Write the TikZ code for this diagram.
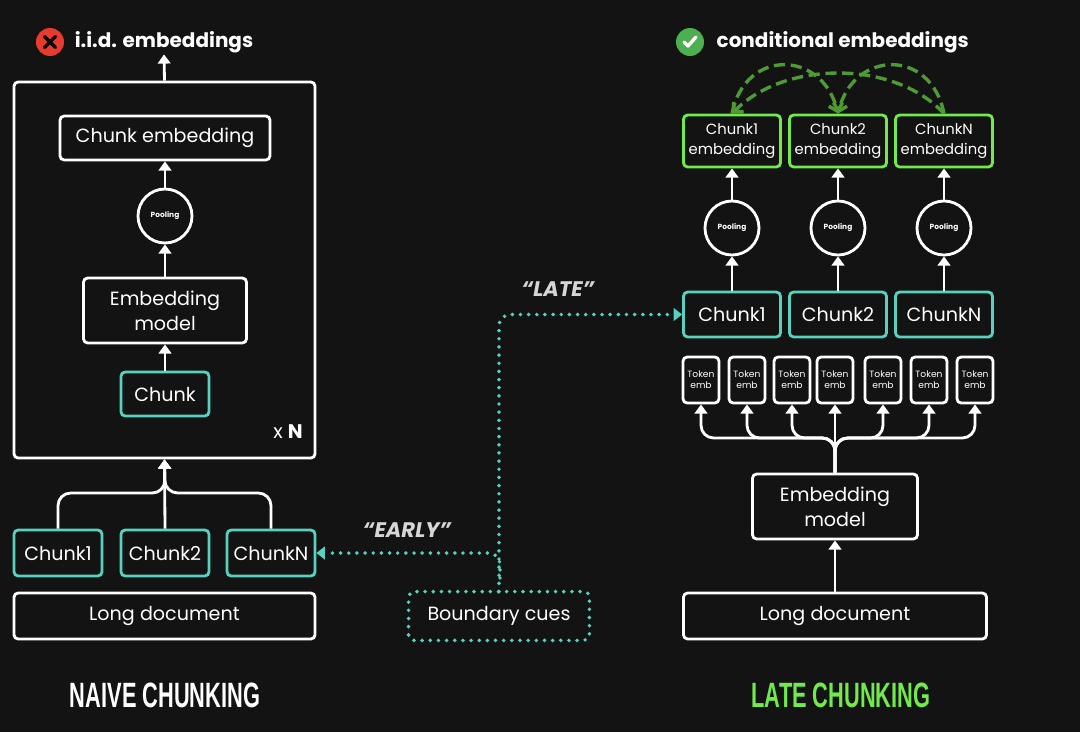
\documentclass[tikz,border=0pt]{standalone}
\usepackage{fontspec}
\setmainfont{Poppins}
\newfontfamily\titlefont{Liberation Sans}
\usetikzlibrary{arrows.meta}

\definecolor{bg}{HTML}{131313}
\definecolor{cueteal}{HTML}{58D2BE}
\definecolor{embgreen}{HTML}{72EA4C}
\definecolor{arcgreen}{HTML}{4E9A34}
\definecolor{crossred}{HTML}{E63B2E}
\definecolor{checkgreen}{HTML}{4CAF50}
\definecolor{cuegray}{HTML}{D6D6D6}

\tikzstyle{box} = [rectangle, rounded corners = 3pt, draw = white, line width = 2pt,
	text = white, align = center, inner sep = 0pt, font = \fontsize{13.6}{18}\selectfont]
\tikzstyle{chunkbox} = [box, draw = cueteal]
\tikzstyle{embbox} = [box, draw = embgreen, font = \fontsize{10.5}{14}\selectfont,
	minimum width = 2.425cm, minimum height = 1.3cm]
\tikzstyle{tokbox} = [box, font = \fontsize{6.5}{8}\selectfont,
	minimum width = 0.9cm, minimum height = 1.15cm]
\tikzstyle{pool} = [circle, draw = white, line width = 2pt, minimum size = 1.35cm,
	inner sep = 0pt, text = white, font = \bfseries\fontsize{5.3}{6}\selectfont]
\tikzstyle{line} = [draw = white, line width = 2pt, -{Triangle[width = 9pt, length = 6.5pt]}]
\tikzstyle{cue} = [draw = cueteal, line width = 2.8pt, dash pattern = on 0pt off 5.8pt,
	line cap = round, rounded corners = 8pt, -{Triangle[width = 9pt, length = 6pt]}]
\tikzstyle{attend} = [draw = arcgreen, line width = 2.4pt, dash pattern = on 8pt off 4pt,
	-{Straight Barb[width = 10pt, length = 5pt]}]
\tikzstyle{head} = [text = white, inner sep = 1pt, font = \bfseries\fontsize{14.2}{18}\selectfont]
\tikzstyle{title} = [inner sep = 0pt, font = \titlefont\bfseries\fontsize{25}{28}\selectfont]
\tikzstyle{cuetext} = [text = cuegray, font = \bfseries\itshape\fontsize{15}{18}\selectfont]

\begin{document}
\begin{tikzpicture}[x = 0.025cm, y = -0.025cm]

\fill [bg] (0,0) rectangle (1080,732);
\useasboundingbox (0,0) rectangle (1080,732);

% naive chunking
\node (nhead) [head] at (164,42) {i.i.d. embeddings};
\node (xicon) [circle, fill = crossred, minimum size = 0.7cm, inner sep = 0pt] at (50,42) {};
\draw [line width = 2.4pt, line cap = round] ([shift = {(-5.5,-5.5)}]xicon.center) -- ([shift = {(5.5,5.5)}]xicon.center)
	([shift = {(-5.5,5.5)}]xicon.center) -- ([shift = {(5.5,-5.5)}]xicon.center);

\node (outer) [box, minimum width = 7.525cm, minimum height = 9.4cm] at (164.5,270) {};
\node (nemb) [box, minimum width = 5.25cm, minimum height = 1.1cm] at (165,138) {Chunk embedding};
\node (npool) [pool] at (165,216) {Pooling};
\node (nmodel) [box, minimum width = 4.075cm, minimum height = 1.625cm] at (165,310.5) {Embedding\\model};
\node (nchunk) [chunkbox, minimum width = 2.2cm, minimum height = 1.1cm] at (165,394) {Chunk};
\node (nrep) [text = white, font = \fontsize{14}{16}\selectfont] at (288,432) {x \textbf{N}};

\node (nc1) [chunkbox, minimum width = 2.2cm, minimum height = 1.15cm] at (58,553) {Chunk1};
\node (nc2) [chunkbox, minimum width = 2.2cm, minimum height = 1.15cm] at (165,553) {Chunk2};
\node (ncN) [chunkbox, minimum width = 2.2cm, minimum height = 1.15cm] at (271,553) {ChunkN};
\node (ndoc) [box, minimum width = 7.525cm, minimum height = 1.15cm] at (164.5,616) {Long document};

\node (ntitle) [title, text = white] at (165,695) {\scalebox{0.62}[1]{NAIVE CHUNKING}};

\coordinate (nmerge) at (165,493);
\draw [line] (outer.north) -- (nhead.south);
\draw [line] (npool.north) -- (nemb.south);
\draw [line] (nmodel.north) -- (npool.south);
\draw [line] (nchunk.north) -- (nmodel.south);
\draw [line, rounded corners = 9pt] (nc1.north) |- (nmerge) -- (outer.south);
\draw [line, rounded corners = 9pt] (ncN.north) |- (nmerge) -- (outer.south);
\draw [line] (nc2.north) -- (outer.south);

% late chunking
\node (rhead) [head, anchor = west] at (715,42) {conditional embeddings};
\node (cicon) [circle, fill = checkgreen, minimum size = 0.7cm, inner sep = 0pt] at (690,42) {};
\draw [white, line width = 2.4pt, line cap = round, line join = round]
	([shift = {(-6,0)}]cicon.center) -- ([shift = {(-2,4)}]cicon.center) -- ([shift = {(6,-5)}]cicon.center);

\node (remb1) [embbox] at (732,141) {Chunk1\\embedding};
\node (remb2) [embbox] at (838,141) {Chunk2\\embedding};
\node (remb3) [embbox] at (944,141) {ChunkN\\embedding};

\node (rpool1) [pool] at (732,228) {Pooling};
\node (rpool2) [pool] at (838,228) {Pooling};
\node (rpool3) [pool] at (944,228) {Pooling};

\node (rc1) [chunkbox, minimum width = 2.425cm, minimum height = 1.125cm] at (732,314.5) {Chunk1};
\node (rc2) [chunkbox, minimum width = 2.425cm, minimum height = 1.125cm] at (838,314.5) {Chunk2};
\node (rc3) [chunkbox, minimum width = 2.425cm, minimum height = 1.125cm] at (944,314.5) {ChunkN};

\foreach \x [count = \i] in {701,747,792,835,883,929,975}
	\node (tok\i) [tokbox] at (\x,380) {Token\\emb};

\node (rmodel) [box, minimum width = 4.125cm, minimum height = 1.625cm] at (835,506.5) {Embedding\\model};
\node (rdoc) [box, minimum width = 7.575cm, minimum height = 1.15cm] at (835,616) {Long document};

\node (rtitle) [title, text = embgreen] at (841,695) {\scalebox{0.62}[1]{LATE CHUNKING}};

\coordinate (rmerge) at (835,438);
\foreach \i in {1,2,3} {
	\draw [line] (rpool\i.north) -- (remb\i.south);
	\draw [line] (rc\i.north) -- (rpool\i.south);
}
\foreach \i in {1,...,7}
	\draw [line, rounded corners = 9pt] (rmodel.north) -- (rmerge) -| (tok\i.south);
\draw [line] (rdoc.north) -- (rmodel.south);

\draw [attend] (remb1.north) .. controls (745,48) and (822,50) .. (remb2.north);
\draw [attend] (remb3.north) .. controls (931,48) and (854,50) .. (remb2.north);
\draw [attend] (remb3.north) .. controls (895,60) and (785,60) .. (remb1.north);

% boundary cues
\node (cues) [box, draw = none, minimum width = 4.45cm, minimum height = 1.15cm] at (499,616) {Boundary cues};
\draw [cueteal, line width = 2.8pt, dash pattern = on 0pt off 5.8pt, line cap = round, rounded corners = 4pt]
	(cues.south west) rectangle (cues.north east);
\coordinate (cbranch) at (500,578);
\draw [cue] (cues.north) |- (rc1.west);
\draw [cue] (cbranch) |- (ncN.east);

\node (nearly) [cuetext] at (407,530) {``EARLY''};
\node (nlate) [cuetext] at (558,289) {``LATE''};

\end{tikzpicture}
\end{document}
